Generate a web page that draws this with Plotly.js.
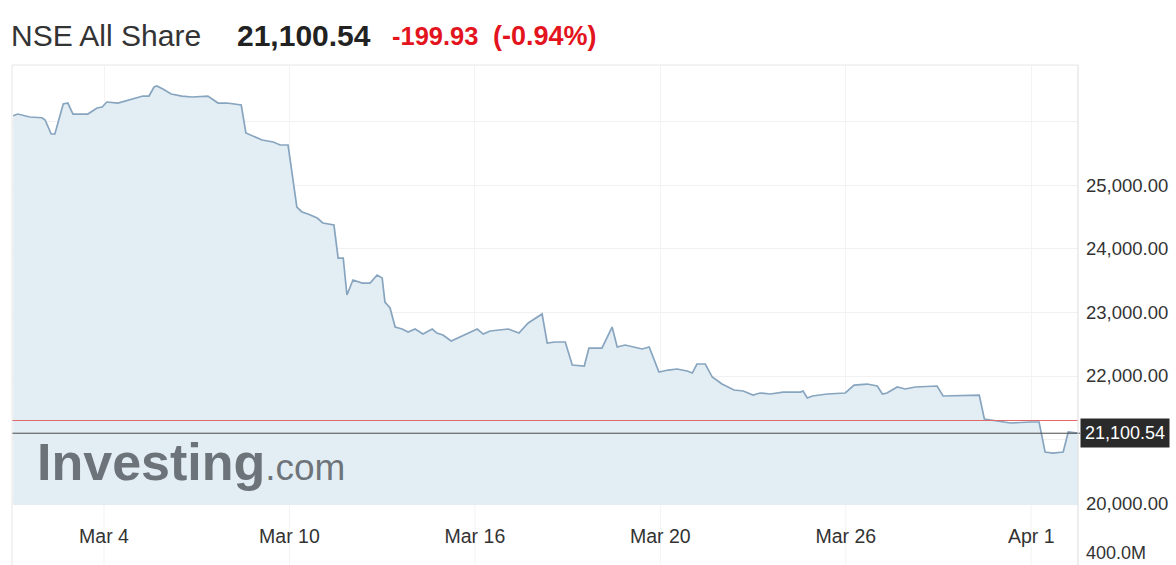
<!DOCTYPE html>
<html>
<head>
<meta charset="utf-8">
<script src="https://cdn.plot.ly/plotly-3.0.1.min.js"></script>
<style>
  html, body { margin: 0; padding: 0; background: #ffffff; }
  #chart { width: 1176px; height: 565px; }
</style>
</head>
<body>
<div id="chart"></div>
<script>
// ---- Data ----
const indexName = 'NSE All Share';
const lastPrice = 21100.54;
const prevClose = 21300.47;
const changeAbs = -199.93;
const changePct = -0.94;

// Tick labels and their positions on the trading-session axis
// (0 = open of Mar 2, 1 = Mar 3, ... each integer is a trading day start)
const xTickLabels = ['Mar 4', 'Mar 10', 'Mar 16', 'Mar 20', 'Mar 26', 'Apr 1'];
const xTickPos = [2, 6, 10, 14, 18, 22];
const yTickVals = [20000, 21000, 22000, 23000, 24000, 25000, 26000];
const yTickText = ['20,000.00', '', '22,000.00', '23,000.00', '24,000.00', '25,000.00', ''];
const volumeLabel = '400.0M';

// Intraday path (session position, index value)
const session = [
  0.04, 0.14, 0.40, 0.66, 0.73, 0.86, 0.94, 1.12, 1.22, 1.33,
  1.65, 1.85, 1.96, 2.06, 2.30, 2.45, 2.84, 2.97, 3.08, 3.14,
  3.27, 3.45, 3.68, 3.90, 4.24, 4.46, 4.65, 4.96, 5.06, 5.41,
  5.65, 5.80, 5.97, 6.16, 6.27, 6.40, 6.60, 6.72, 6.96, 7.05,
  7.16, 7.24, 7.37, 7.57, 7.74, 7.89, 8.00, 8.06, 8.17, 8.28,
  8.43, 8.56, 8.71, 8.88, 9.08, 9.18, 9.31, 9.49, 10.05, 10.18,
  10.33, 10.72, 10.95, 11.15, 11.34, 11.45, 11.56, 11.73, 11.95, 12.10,
  12.36, 12.46, 12.74, 12.96, 13.07, 13.24, 13.61, 13.76, 13.97, 14.17,
  14.36, 14.58, 14.69, 14.79, 14.97, 15.12, 15.33, 15.59, 15.79, 16.00,
  16.15, 16.37, 16.65, 17.02, 17.08, 17.17, 17.28, 17.60, 17.99, 18.18,
  18.46, 18.68, 18.79, 18.89, 19.11, 19.28, 19.50, 19.97, 20.10, 20.88,
  20.99, 21.33, 21.55, 21.98, 22.17, 22.30, 22.47, 22.69, 22.80, 23.01
];
const price = [
  26093, 26119, 26072, 26061, 26025, 25805, 25805, 26277, 26292, 26119,
  26119, 26214, 26229, 26308, 26292, 26324, 26402, 26402, 26544, 26560,
  26513, 26434, 26402, 26387, 26402, 26292, 26292, 26261, 25821, 25711,
  25679, 25632, 25632, 24657, 24579, 24547, 24484, 24406, 24374, 23855,
  23855, 23274, 23509, 23462, 23462, 23588, 23541, 23163, 23069, 22770,
  22739, 22692, 22739, 22660, 22739, 22676, 22645, 22550, 22739, 22660,
  22708, 22739, 22676, 22833, 22928, 22975, 22519, 22535, 22535, 22173,
  22157, 22440, 22440, 22770, 22456, 22487, 22425, 22456, 22063, 22094,
  22110, 22079, 22047, 22189, 22189, 21984, 21874, 21780, 21764, 21701,
  21733, 21717, 21748, 21748, 21764, 21654, 21686, 21717, 21733, 21858,
  21874, 21843, 21717, 21733, 21827, 21796, 21827, 21843, 21686, 21701,
  21324, 21292, 21261, 21277, 21277, 20805, 20789, 20805, 21119, 21100.54
];

// ---- Formatting helpers ----
const fmt = v => v.toLocaleString('en-US', {minimumFractionDigits: 2, maximumFractionDigits: 2});

const FONT = 'Liberation Sans, Arial, sans-serif';
const lowerPane = -60 / 440; // paper fraction of the white area below the price pane

const traces = [{
  type: 'scatter',
  mode: 'lines',
  x: session,
  y: price,
  fill: 'tozeroy',
  fillcolor: '#e3edf4',
  line: {color: '#88a5bf', width: 1.7},
  hoverinfo: 'skip'
}];

const shapes = [
  // previous close (red) and last price (dark) lines
  {type: 'line', xref: 'paper', yref: 'y', x0: 0, x1: 1, y0: prevClose, y1: prevClose,
   line: {color: '#e06a6a', width: 1}},
  {type: 'line', xref: 'paper', yref: 'y', x0: 0, x1: 1.002, y0: lastPrice, y1: lastPrice,
   line: {color: '#4a4a4a', width: 1}},
  // frame
  {type: 'line', xref: 'paper', yref: 'paper', x0: 0, x1: 1, y0: 1, y1: 1,
   line: {color: '#e6e6e6', width: 1}},
  {type: 'line', xref: 'paper', yref: 'paper', x0: 0, x1: 0, y0: lowerPane, y1: 1,
   line: {color: '#e6e6e6', width: 1}},
  {type: 'line', xref: 'paper', yref: 'paper', x0: 1, x1: 1, y0: lowerPane, y1: 1,
   line: {color: '#dcdcdc', width: 1}}
];
xTickPos.forEach(p => shapes.push({
  type: 'line', xref: 'x', yref: 'paper', x0: p, x1: p, y0: lowerPane, y1: 0,
  line: {color: '#f3f3f3', width: 1}, layer: 'below'
}));

const px = v => (v - 12) / 1066;     // helper: page x -> paper x
const py = v => (505 - v) / 440;     // helper: page y -> paper y

const annotations = [
  {xref: 'paper', yref: 'paper', x: px(9), y: py(35), xanchor: 'left', yanchor: 'middle',
   text: indexName, showarrow: false, font: {family: FONT, size: 30, color: '#333333'}},
  {xref: 'paper', yref: 'paper', x: px(235), y: py(35), xanchor: 'left', yanchor: 'middle',
   text: '<b>' + fmt(lastPrice) + '</b>', showarrow: false, font: {family: FONT, size: 30, color: '#222222'}},
  {xref: 'paper', yref: 'paper', x: px(390), y: py(36), xanchor: 'left', yanchor: 'middle',
   text: '<b>' + changeAbs.toFixed(2) + '</b>', showarrow: false, font: {family: FONT, size: 25.5, color: '#e3141d'}},
  {xref: 'paper', yref: 'paper', x: px(491), y: py(36), xanchor: 'left', yanchor: 'middle',
   text: '<b>(' + changePct.toFixed(2) + '%)</b>', showarrow: false, font: {family: FONT, size: 27, color: '#e3141d'}},
  // watermark
  {xref: 'paper', yref: 'paper', x: px(35), y: py(462), xanchor: 'left', yanchor: 'middle',
   text: '<b>Investing</b><span style="font-size:37px;font-weight:normal">.com</span>',
   showarrow: false, font: {family: FONT, size: 52, color: 'rgba(98,104,110,0.92)'}},
  // last price tag
  {xref: 'paper', yref: 'y', x: 1.002, y: lastPrice, xanchor: 'left', yanchor: 'middle',
   text: fmt(lastPrice), showarrow: false, bgcolor: '#2a2a2a', borderpad: 4,
   font: {family: FONT, size: 18, color: '#ffffff'}},
  // volume axis label
  {xref: 'paper', yref: 'paper', x: px(1084), y: py(553), xanchor: 'left', yanchor: 'middle',
   text: volumeLabel, showarrow: false, font: {family: FONT, size: 18, color: '#333333'}}
];

const layout = {
  width: 1176,
  height: 565,
  margin: {l: 12, r: 98, t: 65, b: 60, pad: 0},
  paper_bgcolor: '#ffffff',
  plot_bgcolor: '#ffffff',
  showlegend: false,
  xaxis: {
    range: [0.015, 23.01],
    tickvals: xTickPos,
    ticktext: xTickLabels,
    ticks: '',
    ticklabelstandoff: 17,
    showgrid: true,
    gridcolor: '#f3f3f3',
    zeroline: false,
    showline: false,
    tickfont: {family: FONT, size: 19.5, color: '#333333'},
    fixedrange: true
  },
  yaxis: {
    side: 'right',
    range: [19972, 26890],
    tickvals: yTickVals,
    ticktext: yTickText,
    ticks: '',
    ticklabelstandoff: 7,
    showgrid: true,
    gridcolor: '#f1f1f1',
    zeroline: false,
    showline: false,
    tickfont: {family: FONT, size: 18.5, color: '#333333'},
    fixedrange: true
  },
  shapes: shapes,
  annotations: annotations
};

Plotly.newPlot('chart', traces, layout, {displayModeBar: false, staticPlot: true});
</script>
</body>
</html>
